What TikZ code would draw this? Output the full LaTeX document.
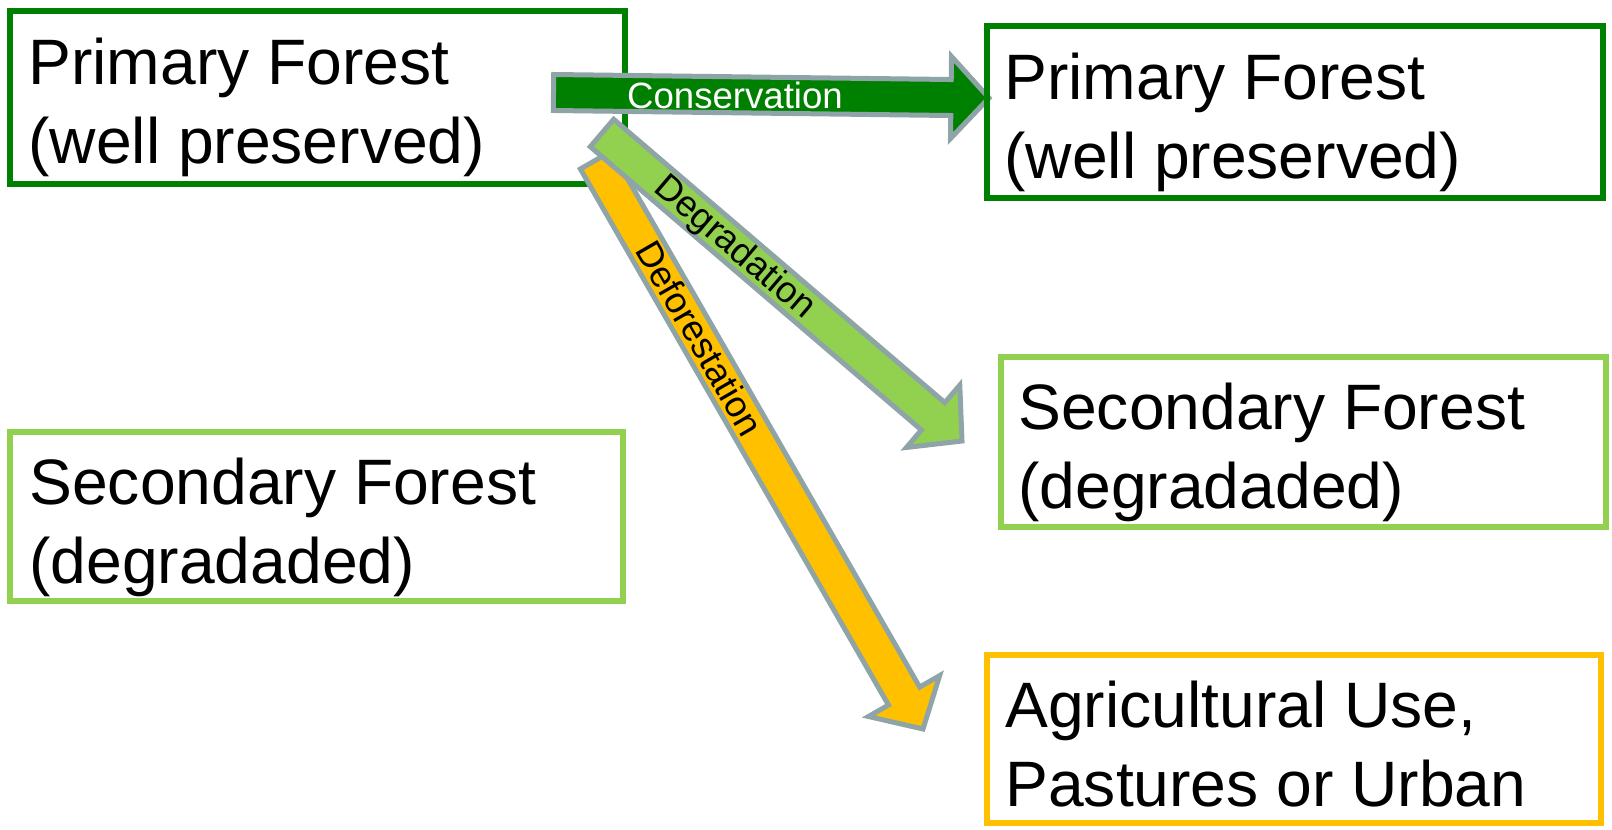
\documentclass[tikz,border=0pt]{standalone}
\usepackage{fontspec}
\setmainfont{Liberation Sans}
\usetikzlibrary{calc}
\definecolor{dkgreen}{RGB}{0,128,0}
\definecolor{ltgreen}{RGB}{146,208,80}
\definecolor{agorange}{RGB}{255,192,0}
\definecolor{edgegray}{RGB}{142,164,167}
\newcommand{\blockarr}[3]{%
  \coordinate (#1q) at ($(#2)!19pt!(#1)$);
  \draw[arrowline, fill=#3] ($(#1)!9pt!90:(#2)$) -- ($(#1q)!9pt!90:(#2)$) -- ($(#1q)!20.5pt!90:(#2)$) -- (#2) -- ($(#1q)!20.5pt!-90:(#2)$) -- ($(#1q)!9pt!-90:(#2)$) -- ($(#1)!9pt!-90:(#2)$) -- cycle;}
\tikzset{
  box/.style={draw=#1, line width=3pt, rectangle, inner sep=0pt},
  boxtext/.style={font=\fontsize{32.1}{39.5}\selectfont, align=left, anchor=base west, inner sep=0pt},
  arrowline/.style={draw=edgegray, line width=2.5pt, line join=miter},
  arrlabel/.style={font=\fontsize{18.3}{21}\selectfont, inner sep=0pt},
}
\begin{document}
\begin{tikzpicture}[x=0.5pt,y=-0.5pt]
\useasboundingbox (0,0) rectangle (1612,830);
% left boxes
\node[box=dkgreen, minimum width=307.5pt, minimum height=86.5pt] (pf1) at (317.5,97.5) {};
\node[box=ltgreen, minimum width=306.5pt, minimum height=84.5pt] (sf1) at (316.5,516.5) {};
\node[boxtext] (t1) at (28,163) {Primary Forest\\(well preserved)};
\node[boxtext] (t3) at (29,583) {Secondary Forest\\(degradaded)};
% arrow end points
\coordinate (o0) at (596,160);
\coordinate (o1) at (923,729);
\coordinate (g0) at (602,133);
\coordinate (g1) at (962,441);
\coordinate (c0) at (553.5,92.5);
\coordinate (c1) at (989,98);
\blockarr{o0}{o1}{agorange}
\blockarr{g0}{g1}{ltgreen}
\blockarr{c0}{c1}{dkgreen}
\node[arrlabel, text=white] (lc) at (735,95) {Conservation};
\node[arrlabel, rotate=-40.5] (lg) at (734,248) {Degradation};
\node[arrlabel, rotate=-60] (lo) at (700,338) {Deforestation};
% right boxes
\node[box=dkgreen, minimum width=308pt, minimum height=86pt] (pf2) at (1295,112) {};
\node[box=ltgreen, minimum width=302.5pt, minimum height=85pt] (sf2) at (1303.5,442) {};
\node[box=agorange, minimum width=307pt, minimum height=84pt] (ag) at (1294,739) {};
\node[boxtext] (t2) at (1004,178) {Primary Forest\\(well preserved)};
\node[boxtext] (t4) at (1018,508) {Secondary Forest\\(degradaded)};
\node[boxtext] (t5) at (1005,806) {Agricultural Use,\\Pastures or Urban};
\end{tikzpicture}
\end{document}
